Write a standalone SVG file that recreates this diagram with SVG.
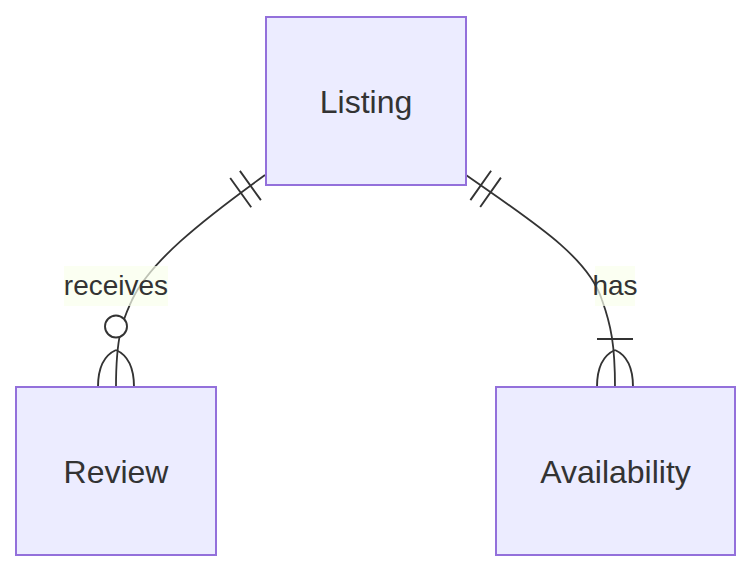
<svg xmlns="http://www.w3.org/2000/svg" width="750" height="570" viewBox="0 0 750 570">
  <style>
    .entity rect { fill: #ECECFF; stroke: #9370DB; stroke-width: 2; }
    .entity text { font-family: "Liberation Sans", Arial, sans-serif; font-size: 32px; fill: #333333; text-anchor: middle; }
    .rel { fill: none; stroke: #333333; stroke-width: 1.8; }
    .mk { fill: none; stroke: #333333; stroke-width: 1.9; }
    .mk-circle { fill: #ffffff; stroke: #333333; stroke-width: 1.9; }
    .lbl-box { fill: #f9ffec; opacity: 0.7; }
    .lbl { font-family: "Liberation Sans", Arial, sans-serif; font-size: 28px; fill: #333333; text-anchor: middle; }
  </style>
  <rect width="750" height="570" fill="#ffffff"/>
  <g id="connectors">
    <g id="rel-receives">
      <path class="rel" d="M265,175 C200,222 150,262 132,300 C124,318 116,332 116,387"/>
      <path class="mk" d="M239.9,170.9 L260.9,200.1 M230.2,178 L251.2,207.2"/>
      <path class="mk" d="M116,350 Q98,358 98,387 M116,350 Q134,358 134,387"/>
      <circle class="mk-circle" cx="116" cy="326.5" r="11"/>
      <rect class="lbl-box" x="64" y="266" width="104" height="40"/>
      <text class="lbl" x="116" y="295">receives</text>
    </g>
    <g id="rel-has">
      <path class="rel" d="M466,175 C530,220 588,256 602,300 C611,325 615,345 615,387"/>
      <path class="mk" d="M491.1,170.7 L470.4,200.1 M500.9,177.6 L480.2,207"/>
      <path class="mk" d="M597,339 L633,339 M615,350 Q597,358 597,387 M615,350 Q633,358 633,387"/>
      <rect class="lbl-box" x="595" y="266" width="40" height="40"/>
      <text class="lbl" x="615" y="295">has</text>
    </g>
  </g>
  <g id="node-listing" class="entity">
    <rect x="266" y="17" width="200" height="168"/>
    <text x="366" y="112.5">Listing</text>
  </g>
  <g id="node-review" class="entity">
    <rect x="16" y="387" width="200" height="168"/>
    <text x="116" y="482.5">Review</text>
  </g>
  <g id="node-availability" class="entity">
    <rect x="496" y="387" width="239" height="168"/>
    <text x="615.5" y="482.5">Availability</text>
  </g>
</svg>
